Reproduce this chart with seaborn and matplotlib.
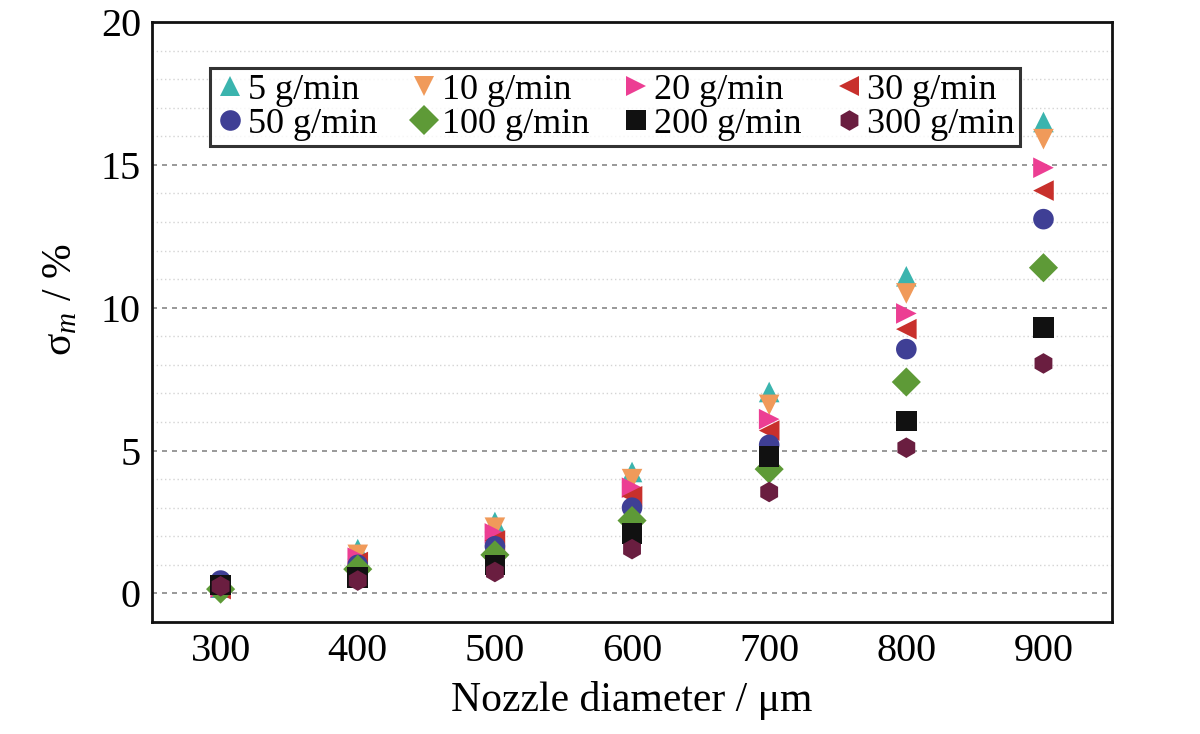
import pandas as pd
import matplotlib.pyplot as plt
import seaborn as sns

# Nozzle diameters (um) and sigma_m (%) for each flow rate
diameters = [300, 400, 500, 600, 700, 800, 900]
rates = ['5 g/min', '10 g/min', '20 g/min', '30 g/min',
         '50 g/min', '100 g/min', '200 g/min', '300 g/min']

sigma_5 = [0.20, 1.55, 2.50, 4.25, 7.05, 11.1, 16.5]
sigma_10 = [0.20, 1.35, 2.30, 4.00, 6.60, 10.5, 15.9]
sigma_20 = [0.20, 1.25, 2.10, 3.70, 6.10, 9.80, 14.9]
sigma_30 = [0.15, 1.10, 1.85, 3.40, 5.70, 9.25, 14.1]
sigma_50 = [0.45, 1.00, 1.65, 3.00, 5.20, 8.55, 13.1]
sigma_100 = [0.15, 0.85, 1.35, 2.55, 4.35, 7.40, 11.4]
sigma_200 = [0.30, 0.55, 1.00, 2.10, 4.80, 6.03, 9.30]
sigma_300 = [0.25, 0.45, 0.75, 1.55, 3.55, 5.10, 8.05]

all_sigma = [sigma_5, sigma_10, sigma_20, sigma_30,
             sigma_50, sigma_100, sigma_200, sigma_300]

colors = ['#3BB4AE', '#F09A5A', '#EC3E93', '#C8302C',
          '#3F3F95', '#5E9A37', '#111111', '#6A1E40']
markers = ['^', 'v', '>', '<', 'o', 'D', 's', 'h']

rows = []
for rate, vals in zip(rates, all_sigma):
    for d, v in zip(diameters, vals):
        rows.append({'Nozzle diameter': d, 'sigma': v, 'rate': rate})
df = pd.DataFrame(rows)

sns.set_style('white')
plt.rcParams['font.family'] = ['Liberation Serif', 'DejaVu Serif']
plt.rcParams['mathtext.fontset'] = 'custom'
plt.rcParams['mathtext.rm'] = 'Liberation Serif'
plt.rcParams['mathtext.it'] = 'Liberation Serif:italic'
for key in ['text.color', 'axes.labelcolor', 'xtick.color', 'ytick.color']:
    plt.rcParams[key] = 'black'

fig = plt.figure(figsize=(12, 7.34), dpi=100)
ax = fig.add_axes([0.1267, 0.1526, 0.80, 0.8174])

sns.scatterplot(data=df, x='Nozzle diameter', y='sigma', hue='rate', style='rate',
                hue_order=rates, style_order=rates, palette=colors, markers=markers,
                s=220, linewidth=0, ax=ax)

ax.set_xlim(250, 950)
ax.set_ylim(-1, 19.8)
ax.set_xticks(diameters)
ax.set_yticks([0, 5, 10, 15, 20])

# minor dotted grid each unit, major dashed every 5
for yv in range(1, 20):
    if yv % 5 != 0:
        ax.axhline(yv, color='#d4d4d4', lw=1.0, ls=(0, (1, 2)), zorder=0)
for yv in [0, 5, 10, 15]:
    ax.axhline(yv, color='#888888', lw=1.2, ls=(0, (3, 3)), zorder=0)

ax.tick_params(axis='both', direction='in', length=9, width=2.2, labelsize=29, pad=8)
for sp in ax.spines.values():
    sp.set_linewidth(2.0)
    sp.set_color('#111111')

ax.set_xlabel('Nozzle diameter / μm', fontsize=30, labelpad=8)
ax.set_ylabel('σ$_{m}$ / %', fontsize=30)
ax.yaxis.set_label_coords(-0.075, 0.537)

# legend filled row by row: 5,10,20,30 / 50,100,200,300
handles, labels = ax.get_legend_handles_labels()
order = [0, 4, 1, 5, 2, 6, 3, 7]
leg = ax.legend([handles[i] for i in order], [labels[i] for i in order],
                ncol=4, loc='upper left', bbox_to_anchor=(0.06, 0.923),
                fontsize=26, frameon=True, fancybox=False, edgecolor='black',
                handlelength=0.8, handletextpad=0.1, columnspacing=0.9,
                borderpad=0.15, labelspacing=0.02, borderaxespad=0)
leg.get_frame().set_linewidth(2.2)

fig.savefig('out.png', dpi=100)
